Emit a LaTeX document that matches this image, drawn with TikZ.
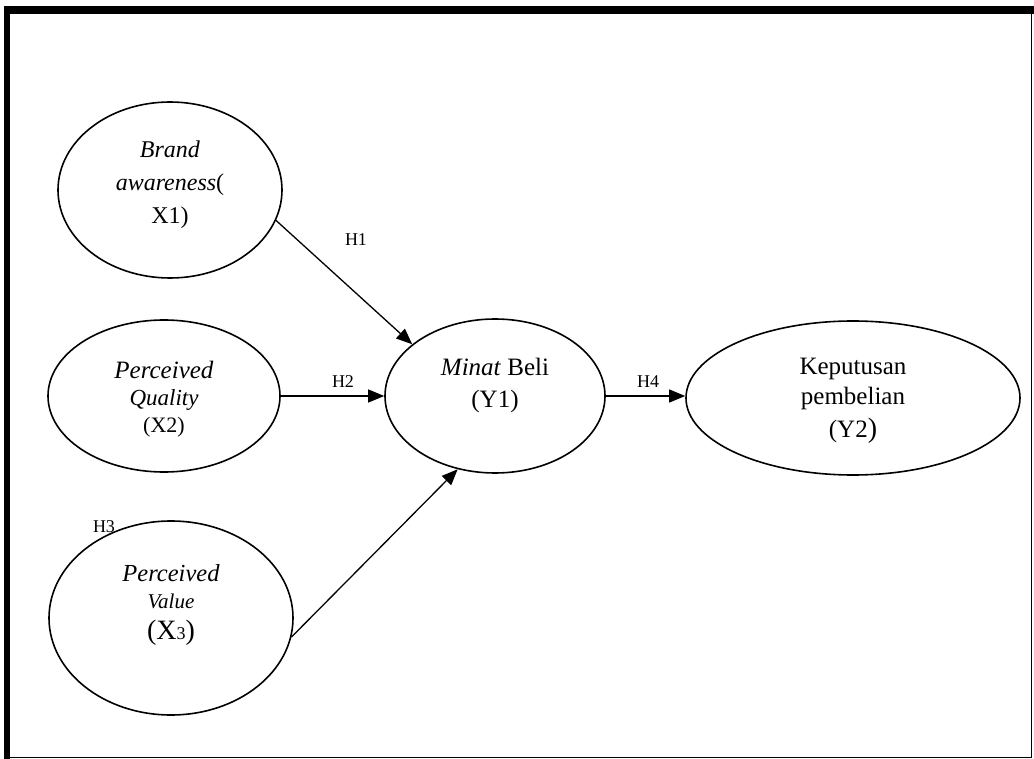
\documentclass[tikz,border=0pt]{standalone}
\usepackage{fontspec}
\setmainfont{Liberation Serif}
\usetikzlibrary{shapes.geometric,arrows.meta}
\begin{document}
\begin{tikzpicture}[x=1pt,y=-1pt,
  ell/.style={draw,ellipse,line width=1.6pt,inner sep=0pt},
  txt/.style={align=center,inner sep=0pt},
  hl/.style={inner sep=0pt,font=\fontsize{18}{20}\selectfont},
  arr/.style={line width=1.3pt,-{Triangle[length=16pt,width=13pt]}}]
\useasboundingbox (0,0) rectangle (1034,759);
% frame
\fill (4,6) rectangle (1034,14);
\fill (4,6) rectangle (10,759);
\draw[line width=1.5pt] (4,757.5) -- (1031.5,757.5) -- (1031.5,10);
% ellipses
\node[ell,minimum width=224pt,minimum height=176pt] (x1) at (170,190) {};
\node[ell,minimum width=232pt,minimum height=152pt] (x2) at (164,396) {};
\node[ell,minimum width=244pt,minimum height=194pt] (x3) at (171,618) {};
\node[ell,minimum width=220pt,minimum height=154pt] (y1) at (495,396) {};
\node[ell,minimum width=334pt,minimum height=154pt] (y2) at (853,398) {};
% texts
\node[txt,font=\fontsize{24}{33}\selectfont] (x1t) at (170,185) {\textit{Brand}\\\textit{awareness}(\\X1)};
\node[txt,font=\fontsize{23}{27}\selectfont] (x2t) at (164,399) {{\fontsize{25}{27}\selectfont\textit{Perceived}}\\\textit{Quality}\\{\fontsize{22}{27}\selectfont(X2)}};
\node[txt,font=\fontsize{21}{27}\selectfont] (x3t) at (171,605) {{\fontsize{24.5}{27}\selectfont\textit{Perceived}}\\\textit{Value}\\[4pt]{\fontsize{28}{28}\selectfont (X\fontsize{18}{18}\selectfont 3\fontsize{28}{28}\selectfont)}};
\node[txt,font=\fontsize{25}{32}\selectfont] (y1t) at (495,385) {\textit{Minat} Beli\\(Y1)};
\node[txt,font=\fontsize{25}{30}\selectfont] (y2t) at (853,401) {Keputusan\\pembelian\\[3pt](Y2{\fontsize{28}{28}\selectfont)}};
% connectors
\draw[arr] (x1.-16) -- (y1.148);
\draw[arr] (x2.east) -- (x2.east -| y1.west);
\draw[arr] (x3.-9) -- (y1.243);
\draw[arr] (y1.east) -- (y1.east -| y2.west);
% labels
\node[hl] (h1) at (356,240) {H1};
\node[hl] (h2) at (343,382) {H2};
\node[hl] (h3) at (104,527) {H3};
\node[hl] (h4) at (648,382) {H4};
\end{tikzpicture}
\end{document}
